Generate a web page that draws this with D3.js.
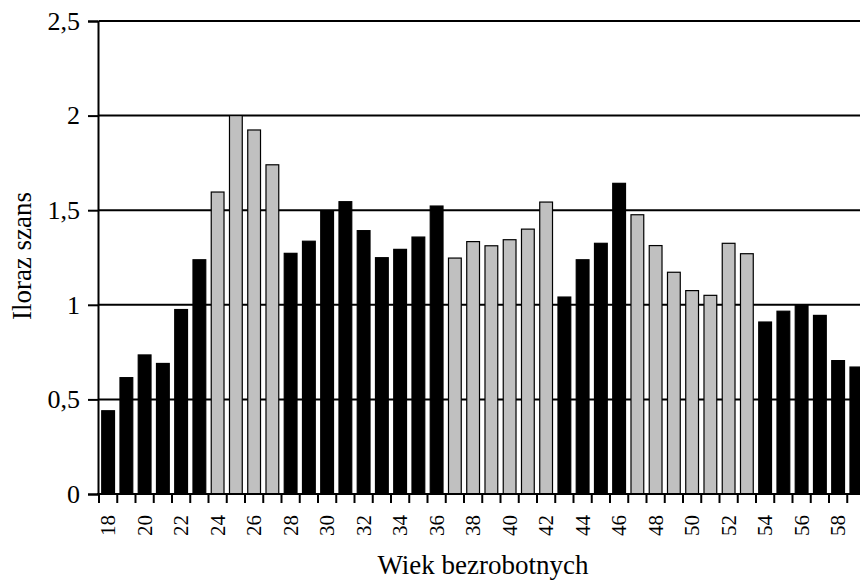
<!DOCTYPE html>
<html>
<head>
<meta charset="utf-8">
<script src="https://cdn.jsdelivr.net/npm/d3@7"></script>
<style>
  html, body { margin: 0; padding: 0; background: #fff; overflow: hidden; }
  svg { display: block; }
</style>
</head>
<body>
<svg id="chart" width="860" height="580" font-family="Liberation Serif"></svg>
<script>
// ---- data ----
const ages = [18,19,20,21,22,23,24,25,26,27,28,29,30,31,32,33,34,35,36,37,38,39,
              40,41,42,43,44,45,46,47,48,49,50,51,52,53,54,55,56,57,58,59];
const values = [0.44,0.615,0.735,0.69,0.975,1.238,1.596,2.0,1.924,1.74,
                1.272,1.336,1.496,1.545,1.392,1.249,1.293,1.358,1.522,
                1.247,1.334,1.312,1.344,1.40,1.543,
                1.041,1.238,1.325,1.642,
                1.476,1.313,1.172,1.075,1.05,1.325,1.27,
                0.909,0.966,1.0,0.944,0.705,0.671];
// 1 = grey bar, 0 = black bar
const groups = [0,0,0,0,0,0,1,1,1,1,
                0,0,0,0,0,0,0,0,0,
                1,1,1,1,1,1,
                0,0,0,0,
                1,1,1,1,1,1,1,
                0,0,0,0,0,0];
const yTicks = [0, 0.5, 1, 1.5, 2, 2.5];
const xLabelAges = [18,20,22,24,26,28,30,32,34,36,38,40,42,44,46,48,50,52,54,56,58];
const yTitle = "Iloraz szans";
const xTitle = "Wiek bezrobotnych";

// ---- layout ----
const FONT = "Liberation Serif";
const svg = d3.select("#chart");
const plotLeft = 99, plotBottom = 494, plotTop = 21;
const step = 18.25;

const x = d3.scaleBand()
  .domain(ages)
  .range([plotLeft, plotLeft + ages.length * step])
  .paddingInner(0.3)
  .paddingOuter(0.15);

const y = d3.scaleLinear().domain([0, 2.5]).range([plotBottom, plotTop]);

const fmt = d => d3.format("")(d).replace(".", ",");

// gridlines
svg.append("g").selectAll("line")
  .data(yTicks.filter(d => d > 0))
  .join("line")
  .attr("x1", plotLeft).attr("x2", 880)
  .attr("y1", d => y(d)).attr("y2", d => y(d))
  .attr("stroke", "#000").attr("stroke-width", 2);

// bars
svg.append("g").selectAll("rect")
  .data(ages.map((a, i) => ({age: a, v: values[i], g: groups[i]})))
  .join("rect")
  .attr("x", d => x(d.age))
  .attr("y", d => y(d.v))
  .attr("width", x.bandwidth())
  .attr("height", d => y(0) - y(d.v))
  .attr("fill", d => d.g ? "#c0c0c0" : "#000")
  .attr("stroke", "#000")
  .attr("stroke-width", 1.2);

// y axis
const yAxis = d3.axisLeft(y).tickValues(yTicks).tickSize(10).tickPadding(8).tickFormat(fmt);
const gy = svg.append("g").attr("transform", `translate(${plotLeft - 1},0)`).call(yAxis);
gy.attr("font-family", FONT).attr("font-size", 26);
gy.select(".domain").attr("stroke", "#000").attr("stroke-width", 2);
gy.selectAll(".tick line").attr("stroke", "#000").attr("stroke-width", 2);
gy.selectAll(".tick text")
  .attr("font-family", FONT).attr("font-size", 26).attr("fill", "#000");

// x axis (ticks at category boundaries)
const gx = svg.append("g");
gx.append("line")
  .attr("x1", plotLeft - 2).attr("x2", 880)
  .attr("y1", plotBottom).attr("y2", plotBottom)
  .attr("stroke", "#000").attr("stroke-width", 2);
gx.selectAll("line.tk")
  .data(ages.concat([60]))
  .join("line").attr("class", "tk")
  .attr("x1", (d, i) => x.range()[0] + i * x.step())
  .attr("x2", (d, i) => x.range()[0] + i * x.step())
  .attr("y1", plotBottom).attr("y2", plotBottom + 9)
  .attr("stroke", "#000").attr("stroke-width", 2);
gx.selectAll("text")
  .data(xLabelAges)
  .join("text")
  .attr("transform", d => `translate(${x(d) + x.bandwidth() / 2},${plotBottom + 21}) rotate(-90)`)
  .attr("text-anchor", "end")
  .attr("dy", "0.35em")
  .attr("font-family", FONT)
  .attr("font-size", 21)
  .attr("fill", "#000")
  .text(d => d);

// axis titles
svg.append("text")
  .attr("transform", `translate(31,256) rotate(-90)`)
  .attr("text-anchor", "middle")
  .attr("font-family", FONT)
  .attr("font-size", 27)
  .attr("fill", "#000")
  .text(yTitle);
svg.append("text")
  .attr("x", 483).attr("y", 574)
  .attr("text-anchor", "middle")
  .attr("font-family", FONT)
  .attr("font-size", 27)
  .attr("fill", "#000")
  .text(xTitle);
</script>
</body>
</html>
